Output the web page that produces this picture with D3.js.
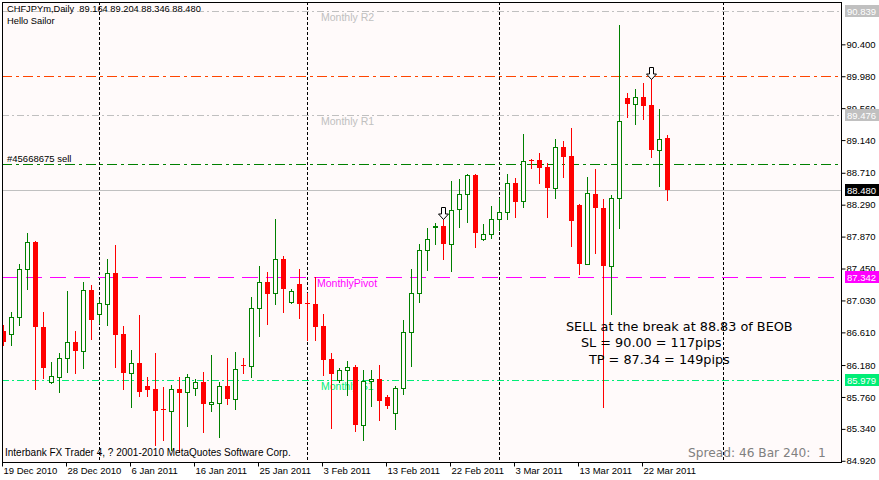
<!DOCTYPE html>
<html><head><meta charset="utf-8">
<script src="https://cdn.jsdelivr.net/npm/d3@7/dist/d3.min.js"></script>
<style>
body{margin:0;background:#fff;}
text{font-family:"Liberation Sans",Arial,sans-serif;}
</style></head>
<body><svg id="c" width="879" height="480"></svg>
<script>
// ---------- data ----------
const dates = ["2010.12.19","2010.12.20","2010.12.21","2010.12.22","2010.12.23","2010.12.24","2010.12.26","2010.12.27","2010.12.28","2010.12.29",
"2010.12.30","2010.12.31","2011.01.02","2011.01.03","2011.01.04","2011.01.05","2011.01.06","2011.01.07","2011.01.09","2011.01.10",
"2011.01.11","2011.01.12","2011.01.13","2011.01.14","2011.01.16","2011.01.17","2011.01.18","2011.01.19","2011.01.20","2011.01.21",
"2011.01.23","2011.01.24","2011.01.25","2011.01.26","2011.01.27","2011.01.28","2011.01.30","2011.01.31","2011.02.01","2011.02.02",
"2011.02.03","2011.02.04","2011.02.06","2011.02.07","2011.02.08","2011.02.09","2011.02.10","2011.02.11","2011.02.13","2011.02.14",
"2011.02.15","2011.02.16","2011.02.17","2011.02.18","2011.02.20","2011.02.21","2011.02.22","2011.02.23","2011.02.24","2011.02.25",
"2011.02.27","2011.02.28","2011.03.01","2011.03.02","2011.03.03","2011.03.04","2011.03.06","2011.03.07","2011.03.08","2011.03.09",
"2011.03.10","2011.03.11","2011.03.13","2011.03.14","2011.03.15","2011.03.16","2011.03.17","2011.03.18","2011.03.20","2011.03.21",
"2011.03.22","2011.03.23","2011.03.24","2011.03.25"];

const open = [86.628,86.592,86.808,87.440,87.799,86.680,85.953,86.019,86.269,86.483,
86.369,87.167,86.848,86.987,87.387,86.588,86.079,86.207,85.904,85.865,
85.595,85.579,85.865,85.821,85.874,85.957,85.663,85.676,85.904,85.737,
86.174,86.163,86.926,87.273,87.132,87.571,87.009,87.242,86.994,86.983,
86.694,86.259,85.987,86.111,86.154,85.395,85.966,85.996,85.759,85.545,
85.874,86.611,87.124,87.690,87.994,88.009,87.776,88.229,88.426,88.676,
87.834,87.900,88.097,88.190,88.571,88.334,88.878,88.874,88.786,88.513,
89.045,88.930,88.286,87.513,88.430,88.242,87.487,88.374,89.694,89.611,
89.703,89.598,89.013,89.164];
const high = [86.707,86.878,87.509,87.921,87.812,86.878,86.220,86.338,87.154,86.628,
87.273,87.233,87.049,87.575,87.759,86.694,86.378,86.838,86.026,86.334,
85.895,85.913,86.019,86.062,85.992,86.084,86.312,85.961,86.273,86.351,
86.269,87.075,87.483,87.408,88.101,87.619,87.180,87.444,87.132,87.334,
86.851,86.342,86.141,86.229,86.180,86.111,86.111,86.180,85.786,85.908,
86.773,87.440,87.769,87.979,88.045,88.176,88.601,88.628,88.690,88.694,
88.032,88.269,88.374,88.694,88.637,89.224,88.887,88.970,88.838,89.150,
89.128,89.303,88.299,88.654,88.759,88.361,88.417,90.654,89.755,89.808,
89.891,89.979,89.545,89.204];
const low = [86.444,86.448,86.707,87.184,85.869,86.013,85.945,85.829,86.092,86.079,
86.145,86.523,86.737,86.711,86.158,85.869,85.632,85.773,85.773,85.128,
85.194,85.062,85.040,85.378,85.786,85.299,85.579,85.237,85.671,85.605,
86.079,86.026,86.566,86.724,86.987,86.882,86.996,86.803,86.505,86.505,
86.053,85.355,85.957,85.782,85.316,85.198,85.645,85.461,85.611,85.334,
85.795,86.171,87.013,87.426,87.776,87.579,87.421,88.000,88.066,87.737,
87.830,87.855,87.961,88.105,88.124,88.263,88.769,88.579,88.132,88.382,
88.658,87.750,87.382,87.505,87.658,85.632,86.848,87.987,89.440,89.348,
89.421,88.921,88.540,88.346];
const close = [86.487,86.808,87.440,87.799,86.676,86.145,86.032,86.269,86.479,86.369,
87.163,86.776,86.992,87.387,86.579,86.079,86.203,85.829,85.855,85.579,
85.582,85.861,85.812,86.019,85.953,85.671,85.694,85.900,85.737,86.124,
86.161,86.926,87.269,87.119,87.571,87.176,87.150,86.987,86.983,86.684,
86.246,86.066,86.111,86.150,85.395,85.970,85.996,85.711,85.645,85.874,
86.611,87.124,87.690,87.834,88.007,87.779,88.216,88.426,88.676,87.921,
87.900,88.097,88.190,88.571,88.321,88.861,88.865,88.776,88.513,89.045,
88.921,88.079,87.513,88.440,88.250,87.487,88.374,89.387,89.611,89.703,
89.592,89.013,89.150,88.480];

const priceTicks = [90.400,89.980,89.560,89.140,88.710,88.290,87.870,87.450,87.030,86.610,86.180,85.760,85.340,84.920];
const dateTickLabels = ["19 Dec 2010","28 Dec 2010","6 Jan 2011","16 Jan 2011","25 Jan 2011","3 Feb 2011","13 Feb 2011","22 Feb 2011","3 Mar 2011","13 Mar 2011","22 Mar 2011"];
const dateTickDates = ["2010.12.19","2010.12.28","2011.01.06","2011.01.16","2011.01.25","2011.02.03","2011.02.13","2011.02.22","2011.03.03","2011.03.13","2011.03.22"];
const separatorBars = [12, 38, 62, 90];

const pivotNames = ["Monthly R2","Monthly R1","MonthlyPivot","Monthly S1"];
const pivotValues = [90.839, 89.476, 87.342, 85.979];
const pivotColors = ["#C0C0C0","#C0C0C0","#FF00FF","#00EE76"];
const pivotDash = ["7,3,2,3","7,3,2,3","16,8","7,3,2,3"];

const stopLoss = 89.98, entry = 88.83, bid = 88.480;
const arrowBars = [55, 81];
const arrowPrices = [88.097, 89.948];

const headerLines = ["CHFJPYm,Daily  89.164 89.204 88.346 88.480", "Hello Sailor"];
const orderLabel = "#45668675 sell";
const noteLines = ["SELL at the break at 88.83 of BEOB", "SL = 90.00 = 117pips", "TP = 87.34 = 149pips"];
const footer = "Interbank FX Trader 4, ? 2001-2010 MetaQuotes Software Corp.";
const spreadText = "Spread: 46 Bar 240:  1";

// ---------- layout ----------
const L = 2, T = 2, R = 842, B = 463;
const svg = d3.select("#c");
const x = d3.scaleLinear().domain([-0.1625, 104.8375]).range([L, R]);
const y = d3.scaleLinear().domain([84.891, 90.957]).range([B, T]);
const px = i => Math.round(x(i)) + 0.5;
const py = v => Math.round(y(v)) + 0.5;

svg.append("rect").attr("width",879).attr("height",480).attr("fill","#fff");
svg.append("rect").attr("x",L).attr("y",T).attr("width",R-L).attr("height",B-T).attr("fill","#FFFAFA");
svg.append("clipPath").attr("id","clip").append("rect").attr("x",L+0.5).attr("y",T+0.5).attr("width",R-L-1).attr("height",B-T-1);
const g = svg.append("g").attr("clip-path","url(#clip)");

// separators
g.selectAll("line.sep").data(separatorBars).join("line").attr("class","sep")
 .attr("x1",d=>px(d)).attr("x2",d=>px(d)).attr("y1",T).attr("y2",B)
 .style("stroke","#000").attr("stroke-dasharray","3,2");

// horizontal levels
g.selectAll("line.piv").data(pivotValues).join("line").attr("class","piv")
 .attr("x1",L).attr("x2",R).attr("y1",d=>py(d)).attr("y2",d=>py(d))
 .style("stroke",(d,i)=>pivotColors[i]).attr("stroke-dasharray",(d,i)=>pivotDash[i]);
g.append("line").attr("class","sl").attr("x1",L).attr("x2",R).attr("y1",py(stopLoss)).attr("y2",py(stopLoss))
 .style("stroke","#FF4500").attr("stroke-dasharray","10,4,3,4");
g.append("line").attr("class","entry").attr("x1",L).attr("x2",R).attr("y1",py(entry)).attr("y2",py(entry))
 .style("stroke","#008000").attr("stroke-dasharray","10,4,3,4");
g.append("line").attr("class","bid").attr("x1",L).attr("x2",R).attr("y1",py(bid)).attr("y2",py(bid))
 .style("stroke","#C0C0C0");

// pivot labels
g.selectAll("text.pl").data(pivotNames).join("text").attr("class","pl")
 .attr("x",(d,i)=> i===2 ? 317 : 321).attr("y",(d,i)=>y(pivotValues[i])+10)
 .attr("font-size",10.5).attr("fill",(d,i)=>pivotColors[i]).text(d=>d);

// candles
const bars = d3.range(dates.length);
const up = i => close[i] > open[i];
g.selectAll("line.wick").data(bars).join("line").attr("class","wick")
 .attr("x1",px).attr("x2",px).attr("y1",i=>Math.round(y(high[i]))).attr("y2",i=>Math.round(y(low[i]))+1)
 .style("stroke",i=>up(i)?"#008000":"#FF0000");
g.selectAll("rect.body").data(bars).join("rect").attr("class","body")
 .attr("x",i=> up(i) ? px(i)-2 : px(i)-2.5)
 .attr("y",i=>{const t=Math.round(y(Math.max(open[i],close[i]))); return up(i)? t+0.5 : t;})
 .attr("width",i=> up(i)?4:5)
 .attr("height",i=>{const t=Math.round(y(Math.max(open[i],close[i]))), b=Math.round(y(Math.min(open[i],close[i]))); return up(i)? Math.max(b-t,0) : Math.max(b-t,1);})
 .attr("fill",i=>up(i)?"#FFFAFA":"#FF0000")
 .style("stroke",i=>up(i)?"#008000":"none");

// arrows
g.selectAll("path.arr").data(arrowBars).join("path").attr("class","arr")
 .attr("d",(d,k)=>{const cx=px(d), ty=Math.round(y(arrowPrices[k]))+0.5;
   return `M${cx},${ty} L${cx-5},${ty-5.5} L${cx-2},${ty-5.5} L${cx-2},${ty-12} L${cx+2},${ty-12} L${cx+2},${ty-5.5} L${cx+5},${ty-5.5} Z`;})
 .attr("fill","#fff").style("stroke","#000");

// texts inside chart
svg.selectAll("text.hdr").data(headerLines).join("text").attr("class","hdr")
 .attr("x",7).attr("y",(d,i)=>12+i*11.5).attr("font-size",9.3).attr("fill","#000")
 .style("white-space","pre").text(d=>d);
svg.append("text").attr("x",7).attr("y",161.5).attr("font-size",9.5).text(orderLabel);
const noteX = [566, 581, 589];
svg.selectAll("text.note").data(noteLines).join("text").attr("class","note")
 .attr("x",(d,i)=>noteX[i]).attr("y",(d,i)=>331+i*16.3).attr("font-size",12.8)
 .style("font-family","'DejaVu Sans',Verdana,sans-serif").attr("fill","#000").text(d=>d);
svg.append("text").attr("x",5).attr("y",456).attr("font-size",10).text(footer);
svg.append("text").attr("x",688).attr("y",457).attr("font-size",12.2).attr("fill","#808080")
 .style("font-family","'DejaVu Sans',Verdana,sans-serif")
 .style("white-space","pre").text(spreadText);

// frame
svg.append("rect").attr("x",L+0.5).attr("y",T+0.5).attr("width",R-L-1).attr("height",B-T-1)
 .attr("fill","none").style("stroke","#000");

// axes
const yAxis = svg.append("g").attr("transform",`translate(${R-0.5},0)`)
 .call(d3.axisRight(y).tickValues(priceTicks).tickSize(4).tickPadding(1).tickFormat(d3.format(".3f")));
yAxis.select(".domain").remove();
yAxis.selectAll("text").attr("font-size",9.5).attr("font-family","Liberation Sans, Arial").attr("fill","#000");
yAxis.selectAll("line").attr("stroke","#000");

const tickIdx = dateTickDates.map(d=>dates.indexOf(d));
const xAxis = svg.append("g").attr("transform",`translate(0,${B-0.5})`)
 .call(d3.axisBottom(x).tickValues(tickIdx).tickSize(4).tickPadding(1).tickFormat((d,i)=>dateTickLabels[i]));
xAxis.select(".domain").remove();
xAxis.selectAll(".tick").attr("transform",d=>`translate(${Math.round(x(d))-0.5},0)`);
xAxis.selectAll("text").attr("text-anchor","start").attr("dx",1).attr("font-size",9.5)
 .attr("font-family","Liberation Sans, Arial").attr("fill","#000");
xAxis.selectAll("line").attr("stroke","#000");

// price tags on right axis
const tagValues = [pivotValues[0], pivotValues[1], bid, pivotValues[2], pivotValues[3]];
const tagColors = [pivotColors[0], pivotColors[1], "#000000", pivotColors[2], pivotColors[3]];
const tags = svg.selectAll("g.tag").data(tagValues).join("g").attr("class","tag")
 .attr("transform",d=>`translate(845,${Math.round(y(d))})`);
tags.append("rect").attr("x",0).attr("y",-6).attr("width",34).attr("height",12).attr("fill",(d,i)=>tagColors[i]);
tags.append("text").attr("x",2).attr("y",3.5).attr("font-size",9.5).attr("fill","#fff").text(d=>d3.format(".3f")(d));
</script></body></html>
